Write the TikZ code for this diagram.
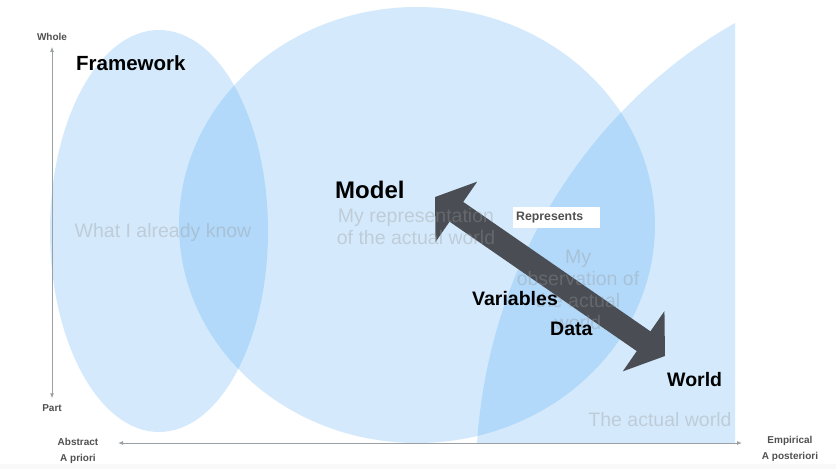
\documentclass[tikz,border=0pt]{standalone}
\usepackage{fontspec}
\setmainfont{Liberation Sans}
\usetikzlibrary{arrows.meta,calc}
\definecolor{skyfill}{RGB}{60,160,245}
\definecolor{arrowgray}{RGB}{74,78,84}
\definecolor{axisgray}{RGB}{155,160,165}
\definecolor{labelgray}{RGB}{80,80,80}
\definecolor{ghostgray}{RGB}{150,150,150}
\begin{document}
\begin{tikzpicture}[x=1pt,y=-1pt,
  region/.style={fill=skyfill,fill opacity=0.22,draw=none},
  ghost/.style={text=ghostgray,text opacity=0.35,font=\fontsize{19.5}{22}\selectfont,align=center,inner sep=0pt},
  keyword/.style={font=\fontsize{19.5}{22}\selectfont\bfseries,text=black,anchor=west,inner sep=0pt},
  axislabel/.style={font=\fontsize{10}{15.5}\selectfont\bfseries,text=labelgray,align=center,inner sep=0pt},
  axis/.style={draw=axisgray,line width=0.9pt,{Latex[length=5pt,width=4pt]}-{Latex[length=5pt,width=4pt]}},
  bigarrow/.style={draw=arrowgray,line width=24pt,
    {Triangle[length=26pt 0 0,width=72pt 0 0]}-{Triangle[length=26pt 0 0,width=72pt 0 0]}}
]
\useasboundingbox (0,0) rectangle (836,469);
\fill[white] (0,0) rectangle (836,469);
\fill[gray!5] (0,464) rectangle (836,469);

% overlapping knowledge regions
\fill[region] (159,231) ellipse [x radius=109, y radius=201];
\fill[region] (417,225) ellipse [x radius=238, y radius=218];
\fill[region] (477,443) .. controls (490,250) and (600,100) .. (735,23) -- (735,443) -- cycle;

% axes
\node[axislabel] (whole) at (52,37) {Whole};
\node[axislabel] (part) at (52,408) {Part};
\node[axislabel] (abstract) at (78,451) {Abstract\\A priori};
\node[axislabel] (empirical) at (790,449) {Empirical\\A posteriori};
\draw[axis] ([yshift=-6pt]whole.south) -- ([yshift=6pt]part.north);
\coordinate (axl) at (118,443);
\coordinate (axr) at (742,443);
\draw[axis] (axl) -- (axr);

% the "represents" arrow between model and world
\coordinate (mtip) at (435,197);
\coordinate (wtip) at (665,356);
\draw[bigarrow] (mtip) -- (wtip);

% region captions
\node[ghost] (know) at (163,232) {What I already know};
\node[ghost] (repr) at (416,227) {My representation\\of the actual world};
\node[ghost] (obs) at (578,290) {My\\observation of\\the actual\\world};
\node[ghost] (actual) at (660,420) {The actual world};

% key terms
\node[keyword,font=\fontsize{20.5}{24}\selectfont\bfseries] (framework) at (76,63) {Framework};
\node[keyword,font=\fontsize{24}{28}\selectfont\bfseries] (model) at (335,190) {Model};
\node[keyword] (world) at (667,380) {World};
\node[keyword] (variables) at (472,299) {Variables};
\node[keyword] (data) at (550,329) {Data};

\node[fill=white,text=labelgray,font=\fontsize{12.3}{14}\selectfont\bfseries,
  anchor=west,text width=81pt,align=left,inner xsep=3pt,minimum height=21pt] (represents) at (513,217.5) {Represents};
\end{tikzpicture}
\end{document}
